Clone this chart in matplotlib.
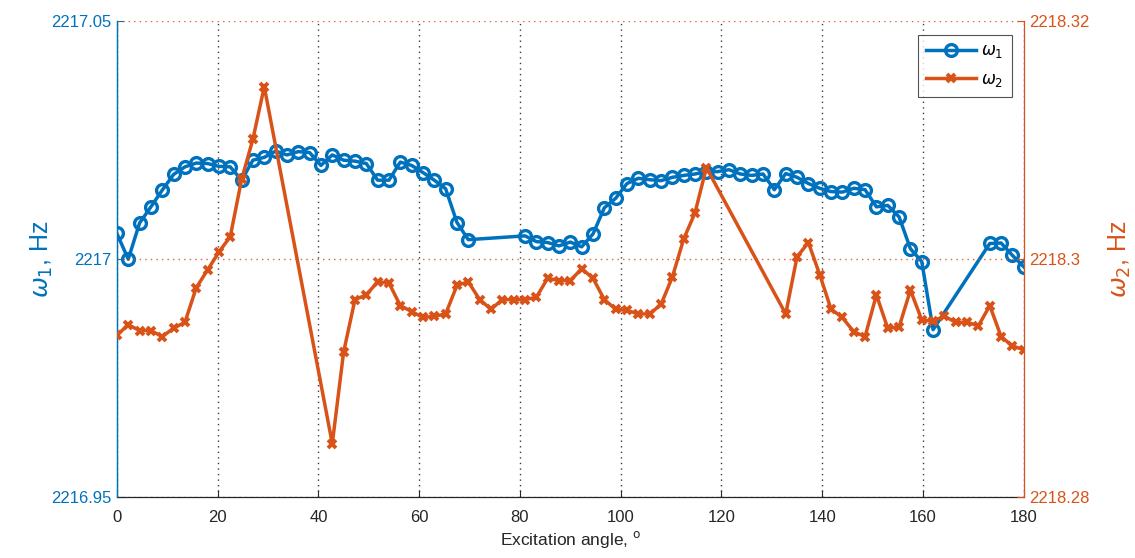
import numpy as np
import matplotlib
matplotlib.use("Agg")
import matplotlib.pyplot as plt

plt.rcParams['font.family'] = ['Liberation Sans', 'DejaVu Sans']
plt.rcParams['mathtext.fontset'] = 'dejavusans'

# angle grid step 2.25 deg
angles_w1 = [0, 2.25, 4.5, 6.75, 9, 11.25, 13.5, 15.75, 18, 20.25, 22.5, 24.75,
             27, 29.25, 31.5, 33.75, 36, 38.25, 40.5, 42.75, 45, 47.25, 49.5,
             51.75, 54, 56.25, 58.5, 60.75, 63, 65.25, 67.5, 69.75,
             81, 83.25, 85.5, 87.75, 90, 92.25, 94.5, 96.75, 99, 101.25, 103.5,
             105.75, 108, 110.25, 112.5, 114.75, 117, 119.25, 121.5, 123.75,
             126, 128.25, 130.5, 132.75, 135, 137.25, 139.5, 141.75, 144,
             146.25, 148.5, 150.75, 153, 155.25, 157.5, 159.75, 162,
             173.25, 175.5, 177.75, 180]
w1_offset = [0.0054, 0.0000, 0.0076, 0.0110, 0.0145, 0.0178, 0.0194, 0.0202,
             0.0201, 0.0195, 0.0194, 0.0166, 0.0208, 0.0214, 0.0227, 0.0219,
             0.0226, 0.0224, 0.0197, 0.0219, 0.0208, 0.0206, 0.0201, 0.0166,
             0.0166, 0.0204, 0.0197, 0.0182, 0.0166, 0.0148, 0.0077, 0.0041,
             0.0049, 0.0037, 0.0035, 0.0028, 0.0036, 0.0026, 0.0053, 0.0108,
             0.0128, 0.0159, 0.0170, 0.0167, 0.0165, 0.0172, 0.0176, 0.0179,
             0.0184, 0.0184, 0.0188, 0.0179, 0.0176, 0.0179, 0.0146, 0.0180,
             0.0172, 0.0159, 0.0149, 0.0142, 0.0141, 0.0149, 0.0146, 0.0110,
             0.0113, 0.0089, 0.0022, -0.0005, -0.0148,
             0.0033, 0.0034, 0.0008, -0.0016]
w1 = [2217 + v for v in w1_offset]

angles_w2 = [0, 2.25, 4.5, 6.75, 9, 11.25, 13.5, 15.75, 18, 20.25, 22.5, 24.75,
             27, 29.25,
             42.75, 45, 47.25, 49.5, 51.75, 54, 56.25, 58.5, 60.75, 63, 65.25,
             67.5, 69.75, 72, 74.25, 76.5, 78.75, 81, 83.25, 85.5, 87.75, 90,
             92.25, 94.5, 96.75, 99, 101.25, 103.5, 105.75, 108, 110.25, 112.5,
             114.75, 117,
             132.75, 135, 137.25, 139.5, 141.75, 144, 146.25, 148.5, 150.75,
             153, 155.25, 157.5, 159.75, 162, 164.25, 166.5, 168.75, 171,
             173.25, 175.5, 177.75, 180]
w2_offset = [-0.0064, -0.0055, -0.0060, -0.0060, -0.0065, -0.0058, -0.0053,
             -0.0024, -0.0009, 0.0006, 0.0019, 0.0067, 0.0101, 0.0145,
             -0.0155, -0.0078, -0.0034, -0.0030, -0.0019, -0.0020, -0.0039,
             -0.0044, -0.0049, -0.0048, -0.0046, -0.0022, -0.0019, -0.0034,
             -0.0042, -0.0034, -0.0034, -0.0034, -0.0032, -0.0016, -0.0018,
             -0.0018, -0.0008, -0.0016, -0.0034, -0.0042, -0.0043, -0.0046,
             -0.0046, -0.0038, -0.0015, 0.0017, 0.0039, 0.0077,
             -0.0046, 0.0002, 0.0014, -0.0013, -0.0042, -0.0049, -0.0061,
             -0.0065, -0.0030, -0.0058, -0.0057, -0.0026, -0.0051, -0.0052,
             -0.0048, -0.0053, -0.0053, -0.0056, -0.0039, -0.0065, -0.0073,
             -0.0076]
w2 = [2218.3 + v for v in w2_offset]

x_ticks = [0, 20, 40, 60, 80, 100, 120, 140, 160, 180]
y1_ticks = [2216.95, 2217, 2217.05]
y1_labels = ['2216.95', '2217', '2217.05']
y2_ticks = [2218.28, 2218.3, 2218.32]
y2_labels = ['2218.28', '2218.3', '2218.32']

BLUE = '#0072BD'
ORANGE = '#D95319'
GRAYTXT = '#262626'

fig = plt.figure(figsize=(11.35, 5.58), dpi=100)
ax1 = fig.add_axes([0.103, 0.109, 0.799, 0.853])
ax2 = ax1.twinx()

l1, = ax1.plot(angles_w1, w1, '-o', color=BLUE, lw=2.5, ms=8.5, mew=2.4,
               mfc='none', label=r'$\omega_1$', zorder=3)
l2, = ax2.plot(angles_w2, w2, '-x', color=ORANGE, lw=2.5, ms=6, mew=2.8,
               label=r'$\omega_2$', zorder=3)

ax1.set_xlim(0, 180)
ax1.set_ylim(2216.95, 2217.05)
ax2.set_ylim(2218.28, 2218.32)

ax1.set_xticks(x_ticks)
ax1.set_xticklabels([str(t) for t in x_ticks])
ax1.set_yticks(y1_ticks)
ax1.set_yticklabels(y1_labels)
ax2.set_yticks(y2_ticks)
ax2.set_yticklabels(y2_labels)

# grids
ax1.grid(True, axis='x', linestyle=(0, (1, 3)), color='#262626', lw=1.0, alpha=0.9)
ax2.grid(True, axis='y', linestyle=(0, (1, 3)), color=ORANGE, lw=1.0, alpha=0.9)
ax1.set_axisbelow(True)
ax2.set_axisbelow(True)

for ax in (ax1, ax2):
    ax.tick_params(direction='in', length=5, width=0.8)
ax1.tick_params(axis='x', colors=GRAYTXT, labelsize=12, pad=9)
ax1.tick_params(axis='y', colors=BLUE, labelsize=12, pad=4)
ax2.tick_params(axis='y', colors=ORANGE, labelsize=12, pad=4)

for ax in (ax1, ax2):
    ax.spines['top'].set_visible(False)
ax2.spines['left'].set_color(BLUE)
ax1.spines['left'].set_color(BLUE)
ax2.spines['right'].set_color(ORANGE)
ax1.spines['right'].set_visible(False)
ax1.spines['bottom'].set_color(GRAYTXT)
ax2.spines['bottom'].set_visible(False)
for s in ('left', 'right', 'bottom'):
    ax1.spines[s].set_linewidth(0.9)
    ax2.spines[s].set_linewidth(0.9)

ax1.set_xlabel(r'Excitation angle, $^\mathrm{o}$', color=GRAYTXT, fontsize=12.5,
               labelpad=3)
ax1.set_ylabel(r'$\omega_1$, Hz', color=BLUE, fontsize=18, labelpad=-3)
ax2.set_ylabel(r'$\omega_2$, Hz', color=ORANGE, fontsize=18, labelpad=12,
               rotation=90)

leg = ax2.legend(handles=[l1, l2], loc='upper right',
                 bbox_to_anchor=(0.987, 0.971), borderaxespad=0, fontsize=12,
                 frameon=True, fancybox=False, edgecolor='#262626',
                 handlelength=3.0, borderpad=0.5, labelspacing=0.7,
                 handletextpad=0.3)
leg.get_frame().set_linewidth(0.8)

fig.savefig('out.png', dpi=100)
